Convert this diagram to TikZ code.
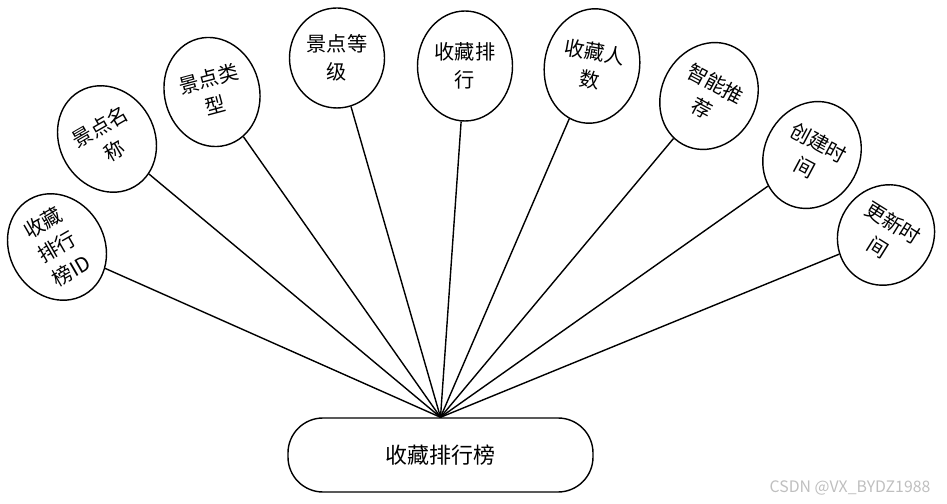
\documentclass[tikz,border=0pt]{standalone}
\usepackage{fontspec}
\setmainfont{Noto Sans CJK SC}
\usepackage{tikz}
\usetikzlibrary{shapes.geometric,positioning}

\begin{document}
\begin{tikzpicture}[
  attr/.style={draw,ellipse,line width=0.8pt,minimum width=1.9cm,
               minimum height=2.2cm,inner sep=0pt,align=center,
               font=\fontsize{11.5}{16}\selectfont},
  entity/.style={draw,rounded corners=0.7cm,line width=0.8pt,
                 minimum width=6.1cm,minimum height=1.48cm,
                 font=\fontsize{12.5}{15}\selectfont},
  link/.style={line width=0.8pt}
]
\useasboundingbox (0,0) rectangle (18.94,10.08);

% 实体
\node[entity] (rank) at (8.81,0.98) {收藏排行榜};

% 属性
\node[attr,rotate=30] (rankid) at (1.14,5.14) {收藏\\排行\\榜ID};
\node[attr,rotate=30] (name) at (2.14,7.30) {景点名\\称};
\node[attr,rotate=15] (type) at (4.24,8.24) {景点类\\型};
\node[attr,minimum height=2.0cm] (level) at (6.74,8.92) {景点等\\级};
\node[attr] (order) at (9.30,8.76) {收藏排\\行};
\node[attr,rotate=-10,minimum height=2.3cm] (count) at (11.84,8.76) {收藏人\\数};
\node[attr,rotate=-28] (recommend) at (14.18,8.16) {智能推\\荐};
\node[attr,rotate=-28] (ctime) at (16.24,6.98) {创建时\\间};
\node[attr,rotate=-32,minimum height=2.05cm] (utime) at (17.72,5.38) {更新时\\间};

% 连线
\draw[link] (rank.north) -- (rankid);
\draw[link] (rank.north) -- (name);
\draw[link] (rank.north) -- (type);
\draw[link] (rank.north) -- (level);
\draw[link] (rank.north) -- (order);
\draw[link] (rank.north) -- (count);
\draw[link] (rank.north) -- (recommend);
\draw[link] (rank.north) -- (ctime);
\draw[link] (rank.north) -- (utime);

% 水印
\node[font=\fontsize{9}{10}\selectfont,text=black!25] (mark) at (17.0,0.32) {CSDN @VX\_BYDZ1988};
\end{tikzpicture}
\end{document}
